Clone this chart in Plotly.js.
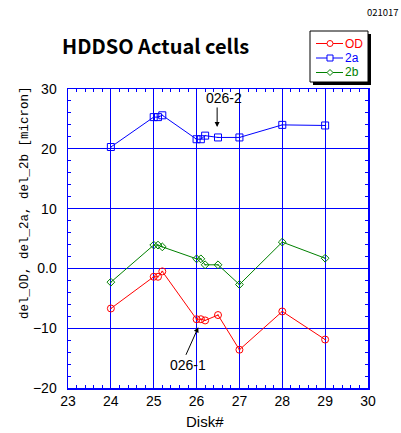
<!DOCTYPE html>
<html>
<head>
<meta charset="utf-8">
<script src="https://cdn.plot.ly/plotly-3.0.1.min.js"></script>
<style>html,body{margin:0;padding:0;background:#fff;}#chart{width:401px;height:433px;}</style>
</head>
<body>
<div id="chart"></div>
<script>
var disk = [24, 25, 25.1, 25.2, 26, 26.1, 26.2, 26.5, 27, 28, 29];
var delOD = [-6.7, -1.4, -1.4, -0.5, -8.5, -8.5, -8.7, -7.8, -13.6, -7.2, -11.9];
var del2a = [20.3, 25.3, 25.3, 25.6, 21.6, 21.6, 22.2, 21.9, 21.9, 24.0, 23.9];
var del2b = [-2.3, 3.9, 3.9, 3.6, 1.6, 1.6, 0.6, 0.6, -2.7, 4.4, 1.7];
var seriesNames = ['OD', '2a', '2b'];
var seriesColors = ['#ff0000', '#0000ff', '#008000'];
var xTicks = [23, 24, 25, 26, 27, 28, 29, 30];
var yTicks = [-20, -10, 0, 10, 20, 30];
var yTickText = ['\u221220', '\u221210', '0.0', '10', '20', '30'];

var SANS = '"Noto Sans CJK JP", "Noto Sans", sans-serif';
var LIB = '"Liberation Sans", Arial, sans-serif';
var MONO = '"Liberation Mono", "DejaVu Sans Mono", monospace';

// plot area in pixels (for placing decorations in paper coordinates)
var L = 68, R = 33, T = 89, B = 45, W = 401, H = 433;
var PW = W - L - R, PH = H - T - B;
function px(x) { return (x - L) / PW; }
function py(y) { return (H - B - y) / PH; }

var seriesY = [delOD, del2a, del2b];
var symbols = ['circle-open-dot', 'square-open-dot', 'diamond-open-dot'];
var sizes = [7, 7, 6];
var traces = seriesY.map(function (ys, i) {
  return {x: disk, y: ys, name: seriesNames[i], mode: 'lines+markers', showlegend: false,
    line: {color: seriesColors[i], width: 1},
    marker: {symbol: symbols[i], size: sizes[i], color: seriesColors[i], line: {width: 1}}};
});

var axisCommon = {
  showline: true, linecolor: '#0000ff', linewidth: 1.5, mirror: 'ticks',
  ticks: 'inside', ticklen: 3, tickcolor: '#0000ff', tickwidth: 1,
  showgrid: true, gridcolor: '#0000ff', gridwidth: 1, zeroline: false,
  tickfont: {family: LIB, size: 14, color: '#000'}
};

// legend box drawn as decoration
var lgX0 = 310, lgX1 = 368, lgY0 = 31, lgY1 = 82;
var rowY = [43.5, 58, 72.5];
var shapes = [
  {type: 'rect', xref: 'paper', yref: 'paper', x0: px(lgX0 + 3), x1: px(lgX1 + 3), y0: py(lgY1 + 3), y1: py(lgY0 + 3),
   fillcolor: '#000', line: {width: 0}, layer: 'above'},
  {type: 'rect', xref: 'paper', yref: 'paper', x0: px(lgX0), x1: px(lgX1), y0: py(lgY1), y1: py(lgY0),
   fillcolor: '#fff', line: {color: '#000', width: 1}, layer: 'above'}
];
var annotations = [];
seriesNames.forEach(function (nm, i) {
  var yy = rowY[i], c = seriesColors[i];
  shapes.push({type: 'line', xref: 'paper', yref: 'paper', x0: px(316), x1: px(343), y0: py(yy), y1: py(yy),
    line: {color: c, width: 1}, layer: 'above'});
  if (i === 0) {
    shapes.push({type: 'circle', xref: 'paper', yref: 'paper', x0: px(327), x1: px(333), y0: py(yy + 3), y1: py(yy - 3),
      fillcolor: '#fff', line: {color: c, width: 1}, layer: 'above'});
  } else if (i === 1) {
    shapes.push({type: 'rect', xref: 'paper', yref: 'paper', x0: px(327), x1: px(333), y0: py(yy + 3), y1: py(yy - 3),
      fillcolor: '#fff', line: {color: c, width: 1}, layer: 'above'});
  } else {
    shapes.push({type: 'path', xref: 'paper', yref: 'paper',
      path: 'M' + px(330) + ',' + py(yy - 3) + ' L' + px(333) + ',' + py(yy) + ' L' + px(330) + ',' + py(yy + 3) + ' L' + px(327) + ',' + py(yy) + ' Z',
      fillcolor: '#fff', line: {color: c, width: 1}, layer: 'above'});
  }
  annotations.push({text: nm, xref: 'paper', yref: 'paper', x: px(344), y: py(yy), xanchor: 'left', yanchor: 'middle',
    showarrow: false, borderpad: 0, font: {family: LIB, size: 12, color: c}});
});

annotations = annotations.concat([
  {text: 'HDDSO Actual cells', xref: 'paper', yref: 'paper', x: px(60), y: py(45),
   xanchor: 'left', yanchor: 'middle', showarrow: false,
   font: {family: SANS, size: 20, color: '#000', weight: 700}},
  {text: '021017', xref: 'paper', yref: 'paper', x: px(401), y: py(12),
   xanchor: 'right', yanchor: 'middle', showarrow: false,
   font: {family: SANS, size: 9.5, color: '#000'}},
  {text: 'del_OD, del_2a, del_2b [micron]', xref: 'paper', yref: 'paper', x: px(25), y: py(203),
   xanchor: 'center', yanchor: 'middle', textangle: -90, showarrow: false,
   font: {family: MONO, size: 12.5, color: '#000'}},
  {text: 'Disk#', xref: 'paper', yref: 'paper', x: px(205), y: py(421),
   xanchor: 'center', yanchor: 'middle', showarrow: false, borderpad: 0,
   font: {family: LIB, size: 15, color: '#000'}},
  {text: '026-2', xref: 'paper', yref: 'paper', x: px(224), y: py(98),
   xanchor: 'center', yanchor: 'middle', showarrow: false,
   font: {family: LIB, size: 14, color: '#000'}},
  {text: '', x: 26.48, y: 23.65, xref: 'x', yref: 'y', showarrow: true,
   ax: 0, ay: -21, arrowhead: 2, arrowsize: 1, arrowwidth: 1, arrowcolor: '#000'},
  {text: '026-1', xref: 'paper', yref: 'paper', x: px(188), y: py(365),
   xanchor: 'center', yanchor: 'middle', showarrow: false,
   font: {family: LIB, size: 14, color: '#000'}},
  {text: '', x: 26.04, y: -9.85, xref: 'x', yref: 'y', showarrow: true,
   ax: -13, ay: 29, arrowhead: 2, arrowsize: 1, arrowwidth: 1, arrowcolor: '#000'}
]);

var layout = {
  width: W, height: H,
  margin: {l: L, r: R, t: T, b: B},
  paper_bgcolor: '#fff', plot_bgcolor: '#fff',
  showlegend: false,
  xaxis: Object.assign({}, axisCommon, {
    range: [23, 30], tickmode: 'array', tickvals: xTicks,
    minor: {dtick: 0.2, ticks: 'inside', ticklen: 3, tickcolor: '#0000ff', showgrid: false}
  }),
  yaxis: Object.assign({}, axisCommon, {
    range: [-20, 30], tickmode: 'array', tickvals: yTicks, ticktext: yTickText,
    ticklabelstandoff: 7,
    minor: {dtick: 2, ticks: 'inside', ticklen: 3, tickcolor: '#0000ff', showgrid: false}
  }),
  shapes: shapes,
  annotations: annotations
};

Plotly.newPlot('chart', traces, layout, {displayModeBar: false, staticPlot: true});
</script>
</body>
</html>
